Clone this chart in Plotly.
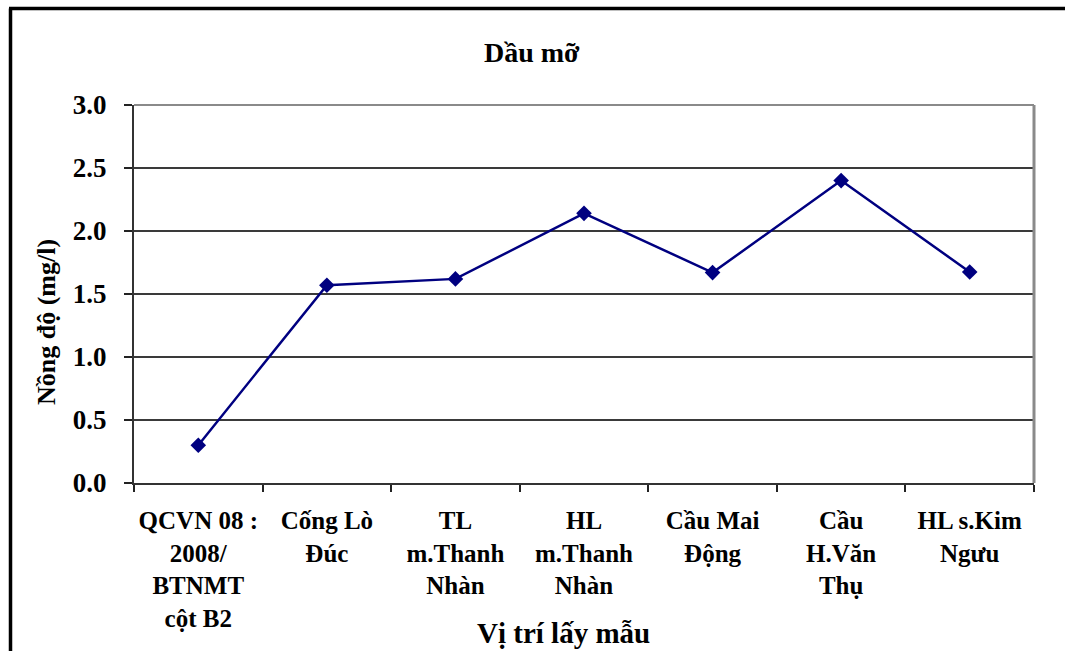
import plotly.graph_objects as go

categories = [
    "QCVN 08 :<br>2008/<br>BTNMT<br>cột B2",
    "Cống Lò<br>Đúc",
    "TL<br>m.Thanh<br>Nhàn",
    "HL<br>m.Thanh<br>Nhàn",
    "Cầu Mai<br>Động",
    "Cầu<br>H.Văn<br>Thụ",
    "HL s.Kim<br>Ngưu",
]
values = [0.30, 1.57, 1.62, 2.14, 1.67, 2.40, 1.675]
y_ticks = [0.0, 0.5, 1.0, 1.5, 2.0, 2.5, 3.0]

W, H = 1065, 651
L, R, T, B = 134, 1034, 105, 483

def px(x):
    return (x - L) / (R - L)

def py(y):
    return (B - y) / (B - T)

FONT = "Liberation Serif"

fig = go.Figure()
fig.add_trace(go.Scatter(
    x=categories, y=values, mode="lines+markers",
    line=dict(color="#000080", width=2.5),
    marker=dict(symbol="diamond", size=12, color="#000080"),
    showlegend=False, cliponaxis=False,
))

fig.update_layout(
    width=W, height=H,
    margin=dict(l=L, r=W - R, t=T, b=H - B),
    paper_bgcolor="white", plot_bgcolor="white",
    font=dict(family=FONT, color="black"),
    xaxis=dict(
        type="category", categoryorder="array", categoryarray=categories,
        range=[-0.5, len(categories) - 0.5],
        tickson="boundaries", ticks="outside", ticklen=7, tickwidth=1.5,
        tickcolor="#222", showline=True, linecolor="#333", linewidth=2,
        showgrid=False, tickangle=0, ticklabelstandoff=14,
        tickfont=dict(family=FONT, size=25, color="black", weight="bold"),
    ),
    yaxis=dict(
        range=[0, 3], tickvals=y_ticks, tickformat=".1f",
        ticks="outside", ticklen=8, tickwidth=1.5, tickcolor="#222",
        showline=True, linecolor="#333", linewidth=2,
        showgrid=True, gridcolor="#3a3a3a", gridwidth=1.5,
        zeroline=False, ticklabelstandoff=12,
        tickfont=dict(family=FONT, size=27, color="black", weight="bold"),
    ),
    shapes=[
        dict(type="line", xref="paper", yref="paper", x0=0, x1=1, y0=1, y1=1,
             line=dict(color="#8a8a8a", width=2)),
        dict(type="line", xref="paper", yref="paper", x0=1, x1=1, y0=0, y1=1,
             line=dict(color="#8a8a8a", width=3)),
        dict(type="line", xref="paper", yref="paper",
             x0=px(10.5), x1=px(10.5), y0=py(8.5), y1=py(H + 5),
             line=dict(color="black", width=3.5)),
        dict(type="line", xref="paper", yref="paper",
             x0=px(9), x1=px(W + 5), y0=py(8.5), y1=py(8.5),
             line=dict(color="black", width=3.5)),
    ],
    annotations=[
        dict(text="<b>Dầu mỡ</b>", xref="paper", yref="paper",
             x=px(532), y=py(53), showarrow=False,
             xanchor="center", yanchor="middle",
             font=dict(family=FONT, size=28, color="black")),
        dict(text="<b>Nồng độ (mg/l)</b>", xref="paper", yref="paper",
             x=px(46), y=py(322), showarrow=False, textangle=-90,
             xanchor="center", yanchor="middle",
             font=dict(family=FONT, size=26, color="black")),
        dict(text="<b>Vị trí lấy mẫu</b>", xref="paper", yref="paper",
             x=px(563), y=py(633), showarrow=False,
             xanchor="center", yanchor="middle",
             font=dict(family=FONT, size=29, color="black")),
    ],
)

fig.write_html(
    "out.html",
    config={"displayModeBar": False},
    post_script="document.body.style.margin='0';document.body.style.overflow='hidden';",
)
